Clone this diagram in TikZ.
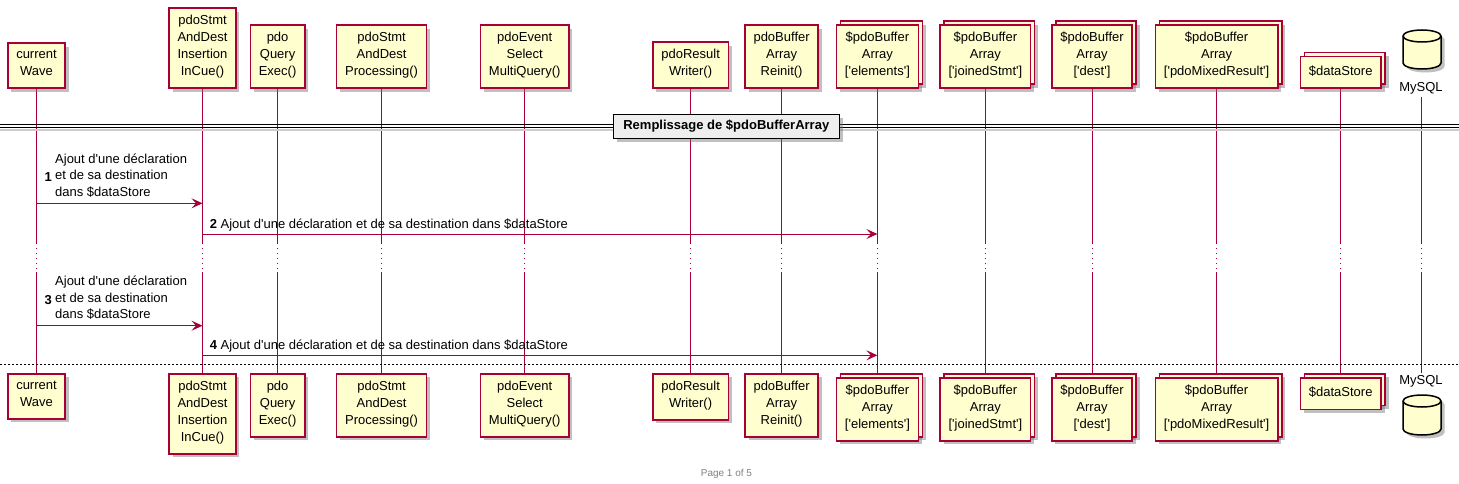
\documentclass[tikz,border=0pt]{standalone}
\usepackage{fontspec}
\setmainfont{Liberation Sans}
\usepackage{tikz}
\usetikzlibrary{arrows.meta,shadows,backgrounds}

\definecolor{umlred}{HTML}{A80036}
\definecolor{umlfill}{HTML}{FEFECE}
\definecolor{sepgrey}{HTML}{EEEEEE}
\newcommand{\boxfont}{\fontsize{13}{17}\selectfont}
\newcommand{\msgfont}{\fontsize{13}{16.5}\selectfont}
\newcommand{\apos}{\textquotesingle}

\begin{document}
\begin{tikzpicture}[x=1pt,y=-1pt,
    umlshadow/.style={drop shadow={shadow xshift=3.5pt,shadow yshift=-3.5pt,fill=black!55,opacity=0.45}},
    part/.style={draw=umlred,fill=umlfill,line width=1.5pt,align=center,font=\boxfont,
      inner xsep=8.5pt,inner ysep=7.25pt,execute at begin node=\strut,execute at end node=\strut,umlshadow},
    coll/.style={part,drop shadow={shadow xshift=7.5pt,shadow yshift=0.5pt,fill=black!55,opacity=0.45},
      copy shadow={shadow xshift=4pt,shadow yshift=4pt,draw=umlred,fill=umlfill,line width=1.5pt}},
    dbedge/.style={draw=black,line width=1.5pt},
    db/.style={dbedge,fill=umlfill,umlshadow},
    dblabel/.style={font=\boxfont,inner sep=3pt},
    sepbox/.style={draw=black,fill=sepgrey,line width=1.5pt,font=\boxfont\bfseries,
      minimum width=226pt,minimum height=24pt,umlshadow},
    lifeline/.style={draw=umlred,line width=1pt},
    delay/.style={lifeline,dash pattern=on 1pt off 4pt},
    msg/.style={draw=umlred,line width=1pt,-{Stealth[length=11pt,width=10pt,inset=4.5pt]}},
    msgtext/.style={font=\msgfont,align=left,inner sep=0pt,execute at begin node=\strut},
    msgline/.style={font=\msgfont,inner sep=0pt},
    msgnum/.style={font=\msgfont\bfseries,inner sep=0pt},
    pageline/.style={draw=black,line width=1pt,dash pattern=on 2pt off 2pt}]
    \useasboundingbox (0,0) rectangle (1459,484);

    % rows
    \coordinate (d1) at (0,243);
    \coordinate (d2) at (0,272);
    \coordinate (r1) at (0,203.3);
    \coordinate (r2) at (0,234);
    \coordinate (r3) at (0,325.7);
    \coordinate (r4) at (0,355.3);

    % participants, top
    \node[part,anchor=south] (wave) at (36.5,89) {current\\Wave};
    \node[part,anchor=south] (insert) at (202.5,89) {pdoStmt\\AndDest\\Insertion\\InCue()};
    \node[part,anchor=south] (query) at (277.6,89) {pdo\\Query\\Exec()};
    \node[part,anchor=south] (process) at (381.6,89) {pdoStmt\\AndDest\\Processing()};
    \node[part,anchor=south] (multi) at (524.7,89) {pdoEvent\\Select\\MultiQuery()};
    \node[part,anchor=south] (writer) at (690.6,89) {pdoResult\\Writer()};
    \node[part,anchor=south] (reinit) at (781.6,89) {pdoBuffer\\Array\\Reinit()};
    \node[coll,anchor=south] (elements) at (877.4,89) {\$pdoBuffer\\Array\\{}[\apos{}elements\apos]};
    \node[coll,anchor=south] (joined) at (985.4,89) {\$pdoBuffer\\Array\\{}[\apos{}joinedStmt\apos]};
    \node[coll,anchor=south] (dest) at (1092,89) {\$pdoBuffer\\Array\\{}[\apos{}dest\apos]};
    \node[coll,anchor=south] (mixed) at (1216.6,89) {\$pdoBuffer\\Array\\{}[\apos{}pdoMixedResult\apos]};
    \node[coll,anchor=south] (store) at (1340.7,89) {\$dataStore};
    \filldraw[db] (1403,36) arc[start angle=180,end angle=360,x radius=19,y radius=6]
      -- (1441,63) arc[start angle=0,end angle=180,x radius=19,y radius=6] -- cycle;
    \draw[dbedge] (1403,36) arc[start angle=180,end angle=0,x radius=19,y radius=6];
    \node[dblabel] (db) at (1421,88) {MySQL};

    % participants, bottom
    \node[part,anchor=north] (waveb) at (36.5,373) {current\\Wave};
    \node[part,anchor=north] (insertb) at (202.5,373) {pdoStmt\\AndDest\\Insertion\\InCue()};
    \node[part,anchor=north] (queryb) at (277.6,373) {pdo\\Query\\Exec()};
    \node[part,anchor=north] (processb) at (381.6,373) {pdoStmt\\AndDest\\Processing()};
    \node[part,anchor=north] (multib) at (524.7,373) {pdoEvent\\Select\\MultiQuery()};
    \node[part,anchor=north] (writerb) at (690.6,373) {pdoResult\\Writer()};
    \node[part,anchor=north] (reinitb) at (781.6,373) {pdoBuffer\\Array\\Reinit()};
    \node[coll,anchor=north] (elementsb) at (877.4,377) {\$pdoBuffer\\Array\\{}[\apos{}elements\apos]};
    \node[coll,anchor=north] (joinedb) at (985.4,377) {\$pdoBuffer\\Array\\{}[\apos{}joinedStmt\apos]};
    \node[coll,anchor=north] (destb) at (1092,377) {\$pdoBuffer\\Array\\{}[\apos{}dest\apos]};
    \node[coll,anchor=north] (mixedb) at (1216.6,377) {\$pdoBuffer\\Array\\{}[\apos{}pdoMixedResult\apos]};
    \node[coll,anchor=north] (storeb) at (1340.7,377) {\$dataStore};
    \node[dblabel] (dbb) at (1421,381.7) {MySQL};
    \filldraw[db] (1403,401) arc[start angle=180,end angle=360,x radius=19,y radius=6]
      -- (1441,429) arc[start angle=0,end angle=180,x radius=19,y radius=6] -- cycle;
    \draw[dbedge] (1403,401) arc[start angle=180,end angle=0,x radius=19,y radius=6];

    % lifelines
    \begin{scope}[on background layer]
      \foreach \p in {wave,insert,query,process,multi,writer,reinit,elements,joined,dest,mixed,store,db}
      {
        \draw[lifeline] (\p.south) -- (\p |- d1);
        \draw[delay] (\p |- d1) -- (\p |- d2);
        \draw[lifeline] (\p |- d2) -- (\p b.north);
      }
    \end{scope}

    % divider
    \draw[black!20,line width=2pt] (0,130.5) -- (1459,130.5);
    \draw[line width=1pt] (0,125) -- (1459,125);
    \draw[line width=1pt] (0,128) -- (1459,128);
    \node[sepbox] (sep) at (726.3,126.3) {Remplissage de \$pdoBufferArray};

    % messages
    \draw[msg] (wave |- r1) -- (insert |- r1);
    \node[msgnum,anchor=base west] (n1) at (44.3,182) {1};
    \node[msgtext,anchor=north west] (t1) at (55,153.5) {Ajout d\apos{}une déclaration\\et de sa destination\\dans \$dataStore};
    \draw[msg] (insert |- r2) -- (elements |- r2);
    \node[msgline,anchor=base west] (t2) at (209.6,228.3) {\textbf{2} Ajout d\apos{}une déclaration et de sa destination dans \$dataStore};
    \draw[msg] (wave |- r3) -- (insert |- r3);
    \node[msgnum,anchor=base west] (n3) at (44.3,304.4) {3};
    \node[msgtext,anchor=north west] (t3) at (55,275.9) {Ajout d\apos{}une déclaration\\et de sa destination\\dans \$dataStore};
    \draw[msg] (insert |- r4) -- (elements |- r4);
    \node[msgline,anchor=base west] (t4) at (209.6,349.6) {\textbf{4} Ajout d\apos{}une déclaration et de sa destination dans \$dataStore};

    \draw[pageline] (0,364) -- (1459,364);
    \node[font=\fontsize{10}{12}\selectfont,text=black!50] (page) at (726.4,474) {Page 1 of 5};
\end{tikzpicture}
\end{document}
